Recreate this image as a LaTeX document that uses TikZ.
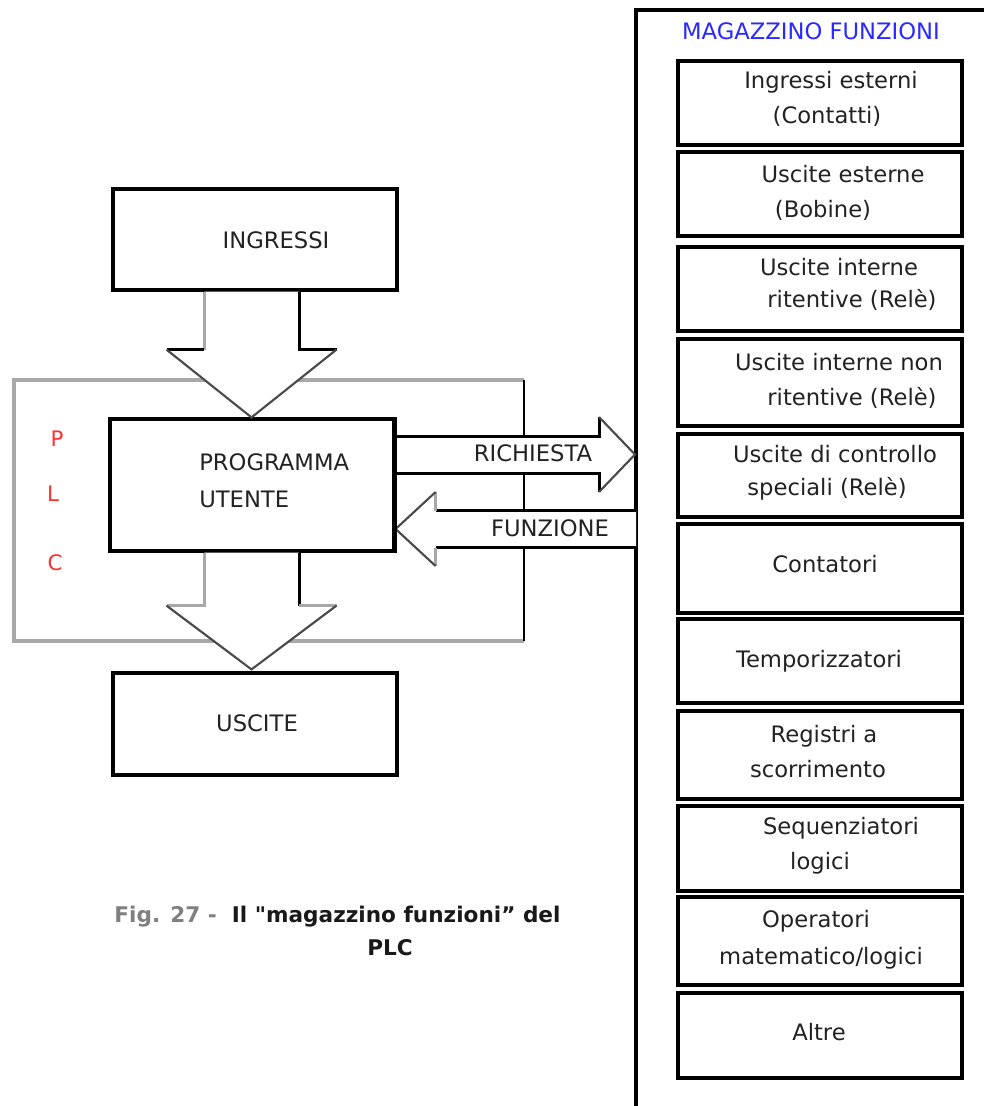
\documentclass[tikz,border=0pt]{standalone}
\usepackage{fontspec}
\setmainfont{DejaVu Sans}
\newfontfamily\plainq{DejaVu Sans}[Ligatures=TeXOff]
\usetikzlibrary{calc}
\definecolor{txt}{HTML}{222222}
\definecolor{lgray}{HTML}{A8A8A8}
\definecolor{dgray}{HTML}{4A4A4A}
\definecolor{plcred}{HTML}{FF3030}
\definecolor{magblue}{HTML}{2828FF}
\begin{document}
\begin{tikzpicture}[x=0.75pt,y=-0.75pt,
  box/.style={draw=black,line width=2.4pt,minimum width={284*0.75pt},inner sep=0pt},
  lbl/.style={font=\fontsize{17}{20}\selectfont,text=txt,inner sep=0pt,anchor=base},
  plclbl/.style={font=\fontsize{16}{20}\selectfont,text=plcred,inner sep=0pt,anchor=base},
  captxt/.style={font=\fontsize{16.2}{19}\selectfont\bfseries,inner sep=0pt,anchor=base},
  shaftline/.style={line width=2.25pt,black},
  grayline/.style={line width=2.25pt,lgray},
  diag/.style={line width=1.6pt,dgray},
  magbox/.style={box,line width=3pt,fill=white}]
\useasboundingbox (0,0) rectangle (984,1106);

% PLC frame
\coordinate (plcNW) at (14,380);
\coordinate (plcSE) at (524,641);
\draw[line width=2.8pt,lgray] (plcSE |- plcNW) -- (plcNW) -- (plcNW |- plcSE) -- (plcSE);
\draw[line width=1.8pt,black] (plcSE |- plcNW) -- (plcSE);

% left boxes
\node[box,minimum height={101*0.75pt}] (ing) at (255,239.5) {};
\node[box,minimum height={132*0.75pt}] (prog) at (252,485) {};
\node[box,minimum height={102*0.75pt}] (usc) at (255,724) {};

% magazzino frame
\coordinate (magNW) at (636,10);
\coordinate (magSW) at (636,1106);
\coordinate (magNE) at (984,10);
\draw[line width=2.4pt] (magSW) -- (magNW) -- (magNE);

% arrow 1: ingressi -> programma
\coordinate (a1) at ($(ing.south)+(-3.5,0)$);
\coordinate (a1t) at (a1 |- prog.north);
\fill[white] ($(a1)+(-47.5,0)$) -- ++(0,58) -- ++(-37.5,0) -- (a1t) -- ($(a1)+(85,58)$) -- ($(a1)+(47.5,58)$) -- ($(a1)+(47.5,0)$) -- cycle;
\draw[grayline] ($(a1)+(-47.5,0)$) -- ++(0,58);
\draw[shaftline] ($(a1)+(-47.5,58)$) -- ++(-37.5,0);
\draw[shaftline] ($(a1)+(47.5,0)$) -- ++(0,58) -- ++(37.5,0);
\draw[diag] ($(a1)+(-85,58)$) -- (a1t) -- ($(a1)+(85,58)$);

% arrow 2: programma -> uscite
\coordinate (a2) at ($(prog.south)+(-0.5,0)$);
\coordinate (a2t) at ($(a2 |- usc.north)+(0,-2)$);
\fill[white] ($(a2)+(-47.5,0)$) -- ++(0,53) -- ++(-37.5,0) -- (a2t) -- ($(a2)+(85,53)$) -- ($(a2)+(47.5,53)$) -- ($(a2)+(47.5,0)$) -- cycle;
\draw[grayline] ($(a2)+(-47.5,0)$) -- ++(0,53) -- ++(-37.5,0);
\draw[shaftline] ($(a2)+(47.5,0)$) -- ++(0,53);
\draw[grayline] ($(a2)+(47.5,53)$) -- ++(37.5,0);
\draw[diag] ($(a2)+(-85,53)$) -- (a2t) -- ($(a2)+(85,53)$);

% RICHIESTA arrow: programma -> magazzino
\coordinate (rq) at ($(prog.east)+(0,-30.5)$);
\coordinate (rqm) at (rq -| magNW);
\fill[white] ($(rq)+(0,-18.5)$) -- ($(rqm)+(-37,-18.5)$) -- ($(rqm)+(-37,-37.5)$) -- ($(rqm)+(-1,0)$) -- ($(rqm)+(-37,37.5)$) -- ($(rqm)+(-37,18.5)$) -- ($(rq)+(0,18.5)$) -- cycle;
\draw[shaftline] ($(rq)+(0,-18.5)$) -- ($(rqm)+(-37,-18.5)$) -- ($(rqm)+(-37,-37.5)$);
\draw[shaftline] ($(rqm)+(-37,37.5)$) -- ($(rqm)+(-37,18.5)$) -- ($(rq)+(0,18.5)$);
\draw[diag] ($(rqm)+(-37,-37.5)$) -- ($(rqm)+(-1,0)$) -- ($(rqm)+(-37,37.5)$);

% FUNZIONE arrow: magazzino -> programma
\coordinate (fz) at ($(prog.east)+(0,44)$);
\coordinate (fzm) at (fz -| magNW);
\fill[white] (fz) -- ($(fz)+(40,-37)$) -- ($(fz)+(40,-18.5)$) -- ($(fzm)+(0,-18.5)$) -- ($(fzm)+(0,18.5)$) -- ($(fz)+(40,18.5)$) -- ($(fz)+(40,37)$) -- cycle;
\draw[shaftline] ($(fzm)+(0,-18.5)$) -- ($(fz)+(40,-18.5)$);
\draw[shaftline] ($(fzm)+(0,18.5)$) -- ($(fz)+(40,18.5)$);
\draw[grayline] ($(fz)+(40,-18.5)$) -- ($(fz)+(40,-37)$);
\draw[grayline] ($(fz)+(40,18.5)$) -- ($(fz)+(40,37)$);
\draw[diag] ($(fz)+(40,-37)$) -- (fz) -- ($(fz)+(40,37)$);
\draw[line width=2.4pt] (prog.north east) -- (prog.south east);

% left labels
\node[lbl] (tIng) at (276,248) {INGRESSI};
\node[lbl,anchor=base west] (tProg) at (199,470) {PROGRAMMA};
\node[lbl,anchor=base west] (tUte) at (199,507) {UTENTE};
\node[lbl] (tUsc) at (257,731) {USCITE};
\node[lbl] (tRic) at (533,461) {RICHIESTA};
\node[lbl] (tFun) at (550,536) {FUNZIONE};
\node[plclbl] (tP) at (57,446) {P};
\node[plclbl] (tL) at (53,501) {L};
\node[plclbl] (tC) at (55,570) {C};

% caption
\node[captxt] (cap1) at (337.5,922) {\textcolor{gray}{Fig. 27 -}\ \ \textcolor{black!90}{Il {\plainq\bfseries "}magazzino funzioni” del}};
\node[captxt,text=black!90] (cap2) at (390,955) {PLC};

% magazzino title
\node[lbl,text=magblue] (tMag) at (811,40) {MAGAZZINO FUNZIONI};

% magazzino boxes
\node[magbox,minimum height={84*0.75pt}] (m1) at (820,103) {};
\node[magbox,minimum height={84*0.75pt}] (m2) at (820,194) {};
\node[magbox,minimum height={84*0.75pt}] (m3) at (820,289) {};
\node[magbox,minimum height={87*0.75pt}] (m4) at (820,382.5) {};
\node[magbox,minimum height={83*0.75pt}] (m5) at (820,475.5) {};
\node[magbox,minimum height={89*0.75pt}] (m6) at (820,568.5) {};
\node[magbox,minimum height={84*0.75pt}] (m7) at (820,661) {};
\node[magbox,minimum height={88*0.75pt}] (m8) at (820,755) {};
\node[magbox,minimum height={85*0.75pt}] (m9) at (820,848.5) {};
\node[magbox,minimum height={88*0.75pt}] (m10) at (820,941) {};
\node[magbox,minimum height={85*0.75pt}] (m11) at (820,1035.5) {};

\node[lbl] (m1a) at (831,89) {Ingressi esterni};
\node[lbl] (m1b) at (827,123) {(Contatti)};
\node[lbl] (m2a) at (843,182) {Uscite esterne};
\node[lbl] (m2b) at (823,217) {(Bobine)};
\node[lbl] (m3a) at (839,275) {Uscite interne};
\node[lbl] (m3b) at (852,307) {ritentive (Relè)};
\node[lbl] (m4a) at (839,370) {Uscite interne non};
\node[lbl] (m4b) at (852,405) {ritentive (Relè)};
\node[lbl] (m5a) at (835,462) {Uscite di controllo};
\node[lbl] (m5b) at (827,495) {speciali (Relè)};
\node[lbl] (m6a) at (825,572) {Contatori};
\node[lbl] (m7a) at (819,667) {Temporizzatori};
\node[lbl] (m8a) at (824,742) {Registri a};
\node[lbl] (m8b) at (818,777) {scorrimento};
\node[lbl] (m9a) at (841,834) {Sequenziatori};
\node[lbl] (m9b) at (820,869) {logici};
\node[lbl] (m10a) at (816,927) {Operatori};
\node[lbl] (m10b) at (821,964) {matematico/logici};
\node[lbl] (m11a) at (819,1040) {Altre};
\end{tikzpicture}
\end{document}
